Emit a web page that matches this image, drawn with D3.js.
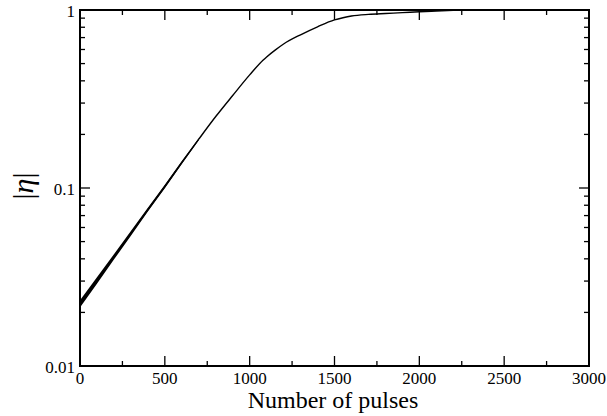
<!DOCTYPE html>
<meta charset="utf-8">
<title>|eta| vs number of pulses</title>
<style>
  body { margin: 0; background: #fff; }
</style>
<body>
<script src="https://cdn.jsdelivr.net/npm/d3@7"></script>
<script>
// data
var pulses = [0, 100, 200, 300, 400, 500, 600, 700, 800, 900, 1000, 1080, 1100, 1150,
              1200, 1300, 1400, 1500, 1550, 1600, 1700, 1800, 1900, 2000, 2100, 2200, 2300, 2500, 3000];
var eta = [0.0223, 0.0302, 0.0410, 0.0556, 0.0755, 0.102, 0.139, 0.188, 0.252, 0.331, 0.432, 0.524, 0.545, 0.595,
           0.644, 0.726, 0.805, 0.88, 0.905, 0.925, 0.945, 0.956, 0.966, 0.978, 0.987, 0.995, 1.0, 1.0, 1.0];
// noisy band at the start of the run (lower / upper envelope)
var noisePulses = [0, 100, 200, 300, 400, 500, 600, 700];
var noiseLow  = [0.0213, 0.0290, 0.0396, 0.0540, 0.0737, 0.0998, 0.1365, 0.1855];
var noiseHigh = [0.0234, 0.0315, 0.0425, 0.0573, 0.0774, 0.1043, 0.1416, 0.1906];

var xTicks = [0, 500, 1000, 1500, 2000, 2500, 3000];
var xMinor = [250, 750, 1250, 1750, 2250, 2750];
var yTicks = [0.01, 0.1, 1];
var yLabels = ["0.01", "0.1", "1"];
var yMinor = [0.02, 0.03, 0.04, 0.05, 0.06, 0.07, 0.08, 0.09, 0.2, 0.3, 0.4, 0.5, 0.6, 0.7, 0.8, 0.9];

var width = 607, height = 416;
var m = {left: 80, right: 18, top: 10, bottom: 50};
var W = width - m.left - m.right, H = height - m.top - m.bottom;
var serif = "Liberation Serif";

var x = d3.scaleLinear().domain([0, 3000]).range([0, W]);
var y = d3.scaleLog().domain([0.01, 1]).range([H, 0]);

var svg = d3.select("body").append("svg")
    .attr("width", width)
    .attr("height", height);
var g = svg.append("g").attr("transform", "translate(" + m.left + "," + m.top + ")");

// curve
g.append("path")
    .datum(noisePulses.map(function(p, i) { return [p, noiseLow[i], noiseHigh[i]]; }))
    .attr("fill", "#000")
    .attr("d", d3.area()
        .x(function(d) { return x(d[0]); })
        .y0(function(d) { return y(d[1]); })
        .y1(function(d) { return y(d[2]); }));

g.append("path")
    .datum(pulses.map(function(p, i) { return [p, eta[i]]; }))
    .attr("fill", "none")
    .attr("stroke", "#000")
    .attr("stroke-width", 1.4)
    .attr("d", d3.line()
        .curve(d3.curveMonotoneX)
        .x(function(d) { return x(d[0]); })
        .y(function(d) { return y(d[1]); }));

// ticks, inward, mirrored on all sides
function ticks(vals, len, axis) {
  vals.forEach(function(v) {
    if (axis == "x") {
      g.append("line").attr("x1", x(v)).attr("x2", x(v)).attr("y1", H).attr("y2", H - len);
      g.append("line").attr("x1", x(v)).attr("x2", x(v)).attr("y1", 0).attr("y2", len);
    } else {
      g.append("line").attr("y1", y(v)).attr("y2", y(v)).attr("x1", 0).attr("x2", len);
      g.append("line").attr("y1", y(v)).attr("y2", y(v)).attr("x1", W).attr("x2", W - len);
    }
  });
}
ticks(xTicks, 10, "x");
ticks(xMinor, 5, "x");
ticks(yTicks, 10, "y");
ticks(yMinor, 5, "y");
g.selectAll("line").attr("stroke", "#000").attr("stroke-width", 1.3);

g.append("rect")
    .attr("width", W).attr("height", H)
    .attr("fill", "none").attr("stroke", "#000").attr("stroke-width", 2);

// labels
g.selectAll(".xl").data(xTicks).enter().append("text")
    .attr("x", function(d) { return x(d); })
    .attr("y", H + 18)
    .attr("text-anchor", "middle")
    .style("font-family", serif)
    .style("font-size", "17px")
    .text(function(d) { return d; });

g.selectAll(".yl").data(yTicks).enter().append("text")
    .attr("x", -5)
    .attr("y", function(d) { return y(d) + 6.5; })
    .attr("text-anchor", "end")
    .style("font-family", serif)
    .style("font-size", "17px")
    .text(function(d, i) { return yLabels[i]; });

svg.append("text")
    .attr("x", 333)
    .attr("y", 408)
    .attr("text-anchor", "middle")
    .style("font-family", serif)
    .style("font-size", "24px")
    .text("Number of pulses");

svg.append("text")
    .attr("transform", "translate(33,186) rotate(-90)")
    .attr("text-anchor", "middle")
    .style("font-family", serif)
    .style("font-size", "30px")
    .html('|<tspan font-style="italic">η</tspan>|');
</script>
</body>
